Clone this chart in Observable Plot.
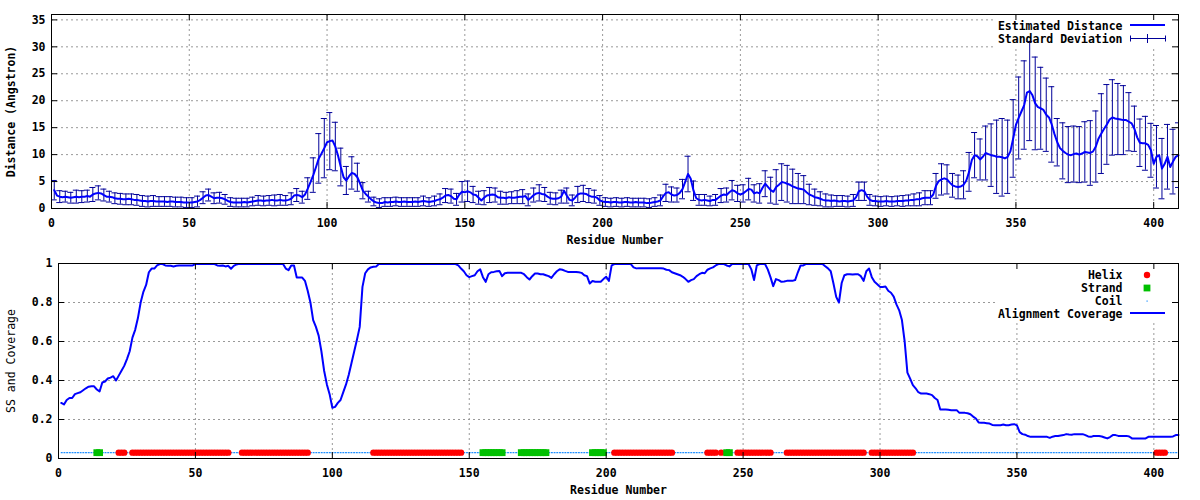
<!DOCTYPE html>
<html>
<head>
<meta charset="utf-8">
<script src="https://cdn.jsdelivr.net/npm/d3@7"></script>
<script src="https://cdn.jsdelivr.net/npm/@observablehq/plot@0.6"></script>
<style>
  html, body { margin: 0; padding: 0; background: white; }
  #chart svg { display: block; }
</style>
</head>
<body>
<div id="chart"></div>
<script>
// ---------- Data ----------
const distance = [
  3.4, 2.4, 2.2, 2.1, 2.2, 2.1, 2.0, 2.1, 2.2, 2.1,
  2.2, 2.2, 2.3, 2.2, 2.6, 2.8, 2.9, 2.8, 2.5, 2.2,
  2.2, 2.1, 1.9, 1.8, 1.8, 1.7, 1.7, 1.8, 1.7, 1.6,
  1.6, 1.5, 1.4, 1.4, 1.3, 1.4, 1.4, 1.3, 1.3, 1.3,
  1.3, 1.2, 1.3, 1.3, 1.2, 1.2, 1.2, 1.1, 1.1, 1.1,
  1.1, 1.2, 1.3, 1.6, 2.0, 2.4, 2.5, 2.2, 1.9, 2.0,
  2.0, 1.9, 1.7, 1.4, 1.2, 1.1, 1.1, 1.1, 1.1, 1.2,
  1.1, 1.2, 1.3, 1.4, 1.5, 1.5, 1.4, 1.5, 1.5, 1.6,
  1.5, 1.5, 1.6, 1.5, 1.5, 1.6, 1.8, 2.4, 2.5, 2.4,
  2.1, 2.6, 3.7, 4.9, 6.2, 7.7, 9.3, 10.2, 11.2, 12.3,
  12.5, 12.6, 11.5, 9.8, 7.7, 5.8, 5.2, 6.0, 6.6, 6.4,
  5.8, 4.6, 3.3, 2.7, 2.2, 1.7, 1.3, 1.1, 1.0, 1.0,
  1.2, 1.1, 1.2, 1.2, 1.3, 1.2, 1.2, 1.3, 1.2, 1.2,
  1.2, 1.3, 1.2, 1.3, 1.4, 1.3, 1.2, 1.3, 1.4, 1.6,
  1.7, 2.0, 2.4, 2.5, 2.3, 1.8, 1.7, 2.6, 3.1, 3.0,
  3.2, 3.0, 2.6, 2.5, 2.0, 1.5, 2.0, 2.4, 2.5, 2.6,
  2.5, 2.1, 2.0, 2.0, 1.9, 2.1, 2.0, 2.0, 2.1, 2.2,
  2.2, 2.3, 1.6, 2.0, 2.5, 2.8, 2.9, 2.7, 2.6, 2.2,
  1.9, 1.8, 1.8, 1.9, 2.2, 3.3, 2.4, 1.6, 1.5, 2.0,
  2.6, 2.8, 2.8, 2.7, 2.4, 2.2, 2.2, 2.0, 1.5, 1.3,
  1.2, 1.2, 1.1, 1.2, 1.2, 1.1, 1.1, 1.2, 1.2, 1.1,
  1.1, 1.2, 1.1, 1.1, 1.1, 1.0, 1.0, 1.1, 1.2, 1.3,
  1.5, 2.3, 2.9, 3.0, 2.6, 2.4, 2.5, 2.9, 3.6, 5.0,
  6.4, 5.5, 3.3, 1.9, 1.6, 1.5, 1.6, 1.5, 1.4, 1.6,
  1.6, 2.0, 2.4, 2.6, 2.5, 3.0, 3.4, 3.2, 2.8, 2.6,
  2.8, 3.2, 3.6, 3.5, 2.8, 3.0, 2.8, 3.8, 4.6, 4.0,
  3.4, 3.1, 4.0, 4.4, 4.9, 4.8, 4.6, 4.4, 4.1, 3.9,
  3.7, 3.6, 3.5, 3.0, 2.6, 2.4, 2.1, 2.0, 1.8, 1.6,
  1.5, 1.5, 1.4, 1.5, 1.4, 1.3, 1.4, 1.4, 1.3, 1.4,
  1.5, 2.1, 3.2, 3.4, 3.2, 2.2, 1.6, 1.4, 1.4, 1.3,
  1.3, 1.3, 1.4, 1.3, 1.3, 1.3, 1.4, 1.4, 1.4, 1.5,
  1.5, 1.6, 1.6, 1.7, 1.7, 1.9, 2.0, 2.0, 2.0, 2.6,
  4.2, 5.1, 5.4, 5.6, 5.4, 4.8, 4.3, 4.1, 4.0, 4.1,
  4.4, 5.2, 6.8, 9.0, 9.9, 9.7, 9.1, 9.6, 10.3, 10.1,
  9.9, 9.8, 9.6, 9.6, 9.5, 9.3, 9.6, 10.6, 13.0, 15.5,
  16.8, 18.0, 19.2, 21.5, 21.8, 21.0, 19.5, 18.8, 18.6, 18.3,
  17.4, 16.9, 15.6, 13.8, 12.3, 11.2, 10.7, 10.3, 10.0, 9.9,
  10.1, 10.2, 10.0, 10.2, 10.5, 10.4, 10.3, 10.6, 11.5, 13.0,
  13.9, 14.8, 15.6, 16.5, 16.9, 16.7, 16.6, 16.5, 16.4, 16.4,
  16.1, 15.8, 14.8, 13.2, 12.2, 12.1, 12.1, 11.8, 10.8, 8.3,
  9.6, 9.9, 7.4, 8.3, 9.6, 7.7, 8.7, 9.6, 9.9
];

const stdDev = [
  1.8, 1.2, 1.1, 1.0, 1.0, 1.1, 1.0, 1.1, 1.2, 1.1,
  1.1, 1.0, 1.1, 1.2, 1.3, 1.4, 1.3, 1.2, 1.1, 1.0,
  1.0, 1.0, 1.0, 1.1, 1.0, 1.0, 1.0, 1.1, 1.0, 1.0,
  1.0, 1.0, 1.0, 1.1, 1.0, 1.0, 1.0, 1.0, 0.9, 1.0,
  0.9, 0.9, 0.9, 0.9, 0.9, 0.9, 0.9, 0.8, 0.9, 0.9,
  0.9, 0.9, 1.0, 1.0, 1.1, 1.2, 1.1, 1.0, 1.0, 1.1,
  1.0, 1.0, 0.9, 0.8, 0.8, 0.8, 0.8, 0.8, 0.8, 0.8,
  0.8, 0.8, 0.8, 0.9, 0.9, 0.9, 0.9, 0.9, 0.9, 1.0,
  1.0, 0.9, 1.0, 1.0, 0.9, 1.0, 1.1, 1.1, 1.2, 1.2,
  1.1, 1.3, 2.0, 2.6, 3.2, 3.8, 4.6, 5.8, 5.5, 5.0,
  5.3, 5.5, 4.5, 4.5, 3.5, 3.0, 2.6, 3.0, 3.0, 2.9,
  2.6, 1.8, 1.5, 1.2, 1.0, 0.9, 0.8, 0.8, 0.8, 0.8,
  0.8, 0.8, 0.8, 0.9, 0.8, 0.8, 0.8, 0.8, 0.8, 0.8,
  0.8, 0.8, 0.8, 0.8, 0.9, 0.8, 0.8, 0.8, 0.9, 0.9,
  1.0, 1.1, 1.3, 1.4, 1.3, 1.1, 1.1, 1.5, 1.9, 1.8,
  1.9, 1.8, 1.5, 1.4, 1.2, 1.1, 1.3, 1.4, 1.4, 1.4,
  1.3, 1.2, 1.2, 1.2, 1.1, 1.2, 1.1, 1.2, 1.2, 1.3,
  1.3, 1.3, 1.1, 1.2, 1.3, 1.6, 1.5, 1.4, 1.3, 1.2,
  1.1, 1.1, 1.1, 1.1, 1.2, 2.3, 1.4, 1.0, 1.0, 1.2,
  1.5, 1.6, 1.5, 1.4, 1.3, 1.2, 1.2, 1.1, 0.9, 0.8,
  0.8, 0.8, 0.8, 0.8, 0.8, 0.8, 0.8, 0.8, 0.8, 0.8,
  0.8, 0.8, 0.8, 0.8, 0.8, 0.8, 0.8, 0.8, 0.8, 0.9,
  1.0, 1.3, 1.6, 1.6, 1.4, 1.3, 1.3, 1.5, 1.8, 2.6,
  3.3, 2.8, 1.8, 1.1, 1.0, 0.9, 1.0, 0.9, 0.9, 1.0,
  1.0, 1.2, 1.3, 1.4, 1.3, 1.6, 1.8, 1.7, 1.5, 1.4,
  1.6, 1.8, 2.0, 2.0, 1.6, 1.7, 1.8, 2.6, 2.4, 2.0,
  2.4, 2.8, 3.2, 3.3, 3.4, 3.3, 3.4, 3.3, 3.2, 3.0,
  2.8, 2.7, 2.6, 2.2, 1.9, 1.6, 1.5, 1.4, 1.3, 1.2,
  1.2, 1.1, 1.1, 1.1, 1.0, 1.0, 1.0, 1.0, 1.0, 1.0,
  1.1, 1.3, 1.7, 1.8, 1.7, 1.3, 1.0, 0.9, 0.9, 0.9,
  0.9, 0.9, 0.9, 0.9, 0.9, 0.9, 0.9, 0.9, 1.0, 1.0,
  1.0, 1.1, 1.1, 1.1, 1.2, 1.2, 1.3, 1.3, 1.3, 1.6,
  2.3, 2.6, 2.9, 2.9, 2.7, 2.5, 2.2, 2.2, 2.2, 2.4,
  2.6, 3.0, 3.6, 4.0, 4.2, 4.0, 3.8, 4.6, 5.0, 5.4,
  5.8, 6.2, 6.8, 7.0, 7.2, 6.8, 6.8, 7.0, 7.2, 7.6,
  7.6, 7.8, 8.2, 8.6, 9.2, 9.0, 8.6, 8.0, 7.6, 7.2,
  6.8, 6.6, 7.0, 6.2, 4.4, 4.4, 5.2, 5.0, 5.2, 5.0,
  5.2, 5.4, 5.2, 5.8, 5.6, 5.8, 6.0, 6.2, 6.6, 7.2,
  7.4, 7.6, 7.4, 7.0, 7.0, 6.8, 6.6, 6.6, 6.4, 6.2,
  5.4, 4.8, 4.2, 4.2, 4.4, 4.8, 5.0, 4.8, 5.0, 5.6,
  5.8, 5.8, 5.6, 5.8, 6.0, 5.8, 6.0, 6.2, 6.0
];

const coverage = [
  0.285, 0.277, 0.300, 0.310, 0.310, 0.330, 0.335, 0.340, 0.350, 0.360,
  0.368, 0.370, 0.370, 0.354, 0.344, 0.390, 0.395, 0.410, 0.415, 0.422,
  0.400, 0.425, 0.450, 0.475, 0.510, 0.550, 0.620, 0.660, 0.720, 0.800,
  0.855, 0.890, 0.955, 0.974, 0.974, 0.990, 0.997, 0.997, 0.990, 0.988,
  0.988, 0.985, 0.988, 0.990, 0.990, 0.990, 0.990, 0.990, 0.990, 0.997,
  0.997, 0.997, 0.997, 0.997, 0.997, 0.997, 0.997, 0.990, 0.988, 0.990,
  0.985, 0.988, 0.973, 0.988, 0.995, 0.998, 0.998, 0.998, 0.998, 0.998,
  0.998, 0.998, 0.998, 0.998, 0.998, 0.998, 0.998, 0.998, 0.998, 0.998,
  0.998, 0.998, 0.974, 0.966, 0.990, 0.990, 0.928, 0.928, 0.928, 0.911,
  0.860, 0.800, 0.710, 0.675, 0.630, 0.550, 0.450, 0.380, 0.330, 0.260,
  0.265, 0.285, 0.300, 0.340, 0.380, 0.430, 0.490, 0.550, 0.610, 0.675,
  0.880, 0.950, 0.970, 0.980, 0.983, 0.985, 0.997, 0.998, 0.998, 0.998,
  0.998, 0.998, 0.998, 0.998, 0.998, 0.998, 0.998, 0.998, 0.998, 0.998,
  0.998, 0.998, 0.998, 0.998, 0.998, 0.998, 0.998, 0.998, 0.998, 0.998,
  0.998, 0.998, 0.998, 0.998, 0.997, 0.990, 0.974, 0.960, 0.940, 0.930,
  0.935, 0.940, 0.960, 0.970, 0.930, 0.906, 0.945, 0.955, 0.957, 0.960,
  0.962, 0.935, 0.950, 0.952, 0.952, 0.952, 0.952, 0.952, 0.952, 0.945,
  0.930, 0.918, 0.935, 0.949, 0.949, 0.945, 0.945, 0.940, 0.935, 0.926,
  0.945, 0.960, 0.970, 0.968, 0.962, 0.957, 0.957, 0.957, 0.957, 0.955,
  0.952, 0.940, 0.935, 0.897, 0.910, 0.906, 0.906, 0.906, 0.920, 0.932,
  0.911, 0.990, 0.997, 0.997, 0.997, 0.997, 0.997, 0.997, 0.997, 0.980,
  0.975, 0.976, 0.976, 0.976, 0.976, 0.976, 0.976, 0.976, 0.976, 0.976,
  0.974, 0.968, 0.966, 0.955, 0.950, 0.945, 0.940, 0.932, 0.920, 0.906,
  0.915, 0.920, 0.935, 0.945, 0.952, 0.950, 0.968, 0.975, 0.980, 0.990,
  0.997, 0.997, 0.997, 0.990, 0.985, 0.997, 0.997, 0.997, 0.997, 0.997,
  0.997, 0.997, 0.970, 0.915, 0.990, 0.997, 0.997, 0.997, 0.970, 0.930,
  0.884, 0.920, 0.915, 0.906, 0.908, 0.911, 0.911, 0.911, 0.915, 0.955,
  0.990, 0.990, 0.998, 0.998, 0.998, 0.998, 0.998, 0.998, 0.998, 0.986,
  0.975, 0.960, 0.897, 0.829, 0.800, 0.900, 0.940, 0.945, 0.945, 0.943,
  0.945, 0.945, 0.935, 0.911, 0.960, 0.974, 0.930, 0.906, 0.894, 0.880,
  0.880, 0.882, 0.860, 0.850, 0.830, 0.790, 0.760, 0.710, 0.600, 0.440,
  0.410, 0.376, 0.360, 0.340, 0.333, 0.333, 0.333, 0.330, 0.325, 0.310,
  0.300, 0.251, 0.251, 0.251, 0.250, 0.248, 0.248, 0.248, 0.234, 0.234,
  0.234, 0.232, 0.227, 0.215, 0.205, 0.185, 0.183, 0.183, 0.181, 0.179,
  0.172, 0.171, 0.171, 0.171, 0.174, 0.171, 0.171, 0.174, 0.176, 0.170,
  0.135, 0.125, 0.122, 0.115, 0.111, 0.111, 0.111, 0.111, 0.111, 0.111,
  0.111, 0.106, 0.112, 0.115, 0.115, 0.118, 0.120, 0.125, 0.123, 0.122,
  0.125, 0.125, 0.125, 0.125, 0.120, 0.113, 0.111, 0.115, 0.115, 0.115,
  0.113, 0.108, 0.103, 0.110, 0.120, 0.120, 0.116, 0.116, 0.116, 0.116,
  0.113, 0.103, 0.103, 0.103, 0.103, 0.103, 0.103, 0.111, 0.111, 0.111,
  0.111, 0.111, 0.111, 0.111, 0.111, 0.111, 0.113, 0.120, 0.120
];

// Secondary structure segments [first residue, last residue]
const helixSegments = [[22,24],[27,62],[67,91],[115,147],[203,224],[237,240],[242,242],[248,260],[266,294],[297,312],[401,404]];
const strandSegments = [[14,15],[155,162],[169,178],[195,199],[244,245]];
const ssLevel = 0.03;

const xTicks = [0, 50, 100, 150, 200, 250, 300, 350, 400];
const distTicks = [0, 5, 10, 15, 20, 25, 30, 35];
const covTicks = [0, 0.2, 0.4, 0.6, 0.8, 1];
const xDomain = [0, 409];

const topLegend = [
  {label: "Estimated Distance", kind: "line"},
  {label: "Standard Deviation", kind: "errorbar"}
];
const bottomLegend = [
  {label: "Helix", kind: "helix"},
  {label: "Strand", kind: "strand"},
  {label: "Coil", kind: "coil"},
  {label: "Alignment Coverage", kind: "line"}
];

// ---------- Tables ----------
const rows = distance.map((d, i) => ({res: i + 1, dist: d, sd: stdDev[i], cov: coverage[i]}));
const barRows = rows.filter(r => r.res % 2 === 1);   // error bars drawn on every other residue
const inSeg = (segs, r) => segs.some(([a, b]) => r >= a && r <= b);
const ssRows = rows.map(r => ({
  res: r.res,
  type: inSeg(helixSegments, r.res) ? "H" : inSeg(strandSegments, r.res) ? "E" : "C"
}));

// ---------- Styling ----------
const FONT = "'DejaVu Sans Mono', 'Liberation Mono', monospace";
const LINE_BLUE = "#0000ff";
const BAR_BLUE = "#000099";
const GRID = {stroke: "#999999", strokeOpacity: 1, strokeDasharray: "2,3", strokeWidth: 1};
const HELIX_RED = "#ff0000";
const STRAND_GREEN = "#00c000";
const COIL_BLUE = "#1e8fff";
const fmt = d => String(d);

function legendBackground(h) {
  return (index, scales, values, dims) => {
    const right = dims.width - dims.marginRight;
    const g = d3.create("svg:g");
    g.append("rect").attr("x", right - 182).attr("y", dims.marginTop + 1)
      .attr("width", 181).attr("height", h).attr("fill", "white");
    return g.node();
  };
}

function legendContent(items) {
  return (index, scales, values, dims) => {
    const right = dims.width - dims.marginRight;
    const g = d3.create("svg:g")
      .attr("font-family", FONT).attr("font-size", "11.5px").attr("font-weight", "bold");
    const sx1 = right - 48, sx2 = right - 13, sm = right - 31;
    items.forEach((it, i) => {
      const y = dims.marginTop + 12 + i * 13;
      g.append("text").attr("x", right - 55.5).attr("y", y).attr("dy", "0.35em")
        .attr("text-anchor", "end").attr("fill", "black").text(it.label);
      const ly = y - 1;
      if (it.kind === "line") {
        g.append("line").attr("x1", sx1).attr("x2", sx2).attr("y1", ly).attr("y2", ly)
          .attr("stroke", LINE_BLUE).attr("stroke-width", 2);
      } else if (it.kind === "errorbar") {
        g.append("line").attr("x1", sx1).attr("x2", sx2).attr("y1", ly + 0.5).attr("y2", ly + 0.5)
          .attr("stroke", BAR_BLUE).attr("stroke-width", 1);
        [[sx1, 3], [sx2, 3], [sm, 4.5]].forEach(([x, h]) => {
          g.append("line").attr("x1", x + 0.5).attr("x2", x + 0.5).attr("y1", ly + 0.5 - h).attr("y2", ly + 0.5 + h)
            .attr("stroke", BAR_BLUE).attr("stroke-width", 1);
        });
      } else if (it.kind === "helix") {
        g.append("circle").attr("cx", sm).attr("cy", y).attr("r", 3.2).attr("fill", HELIX_RED);
      } else if (it.kind === "strand") {
        g.append("rect").attr("x", sm - 3.4).attr("y", y - 3.4).attr("width", 6.8).attr("height", 6.8).attr("fill", STRAND_GREEN);
      } else if (it.kind === "coil") {
        g.append("rect").attr("x", sm - 0.5).attr("y", y - 0.5).attr("width", 1.2).attr("height", 1.2).attr("fill", COIL_BLUE);
      }
    });
    return g.node();
  };
}

// ---------- Top panel: distance with error bars ----------
const topM = {left: 51, right: 22, top: 14, bottom: 42};
const topFW = 1200 - topM.left - topM.right;
const topFH = 250 - topM.top - topM.bottom;

const topPlot = Plot.plot({
  width: 1200,
  height: 250,
  marginLeft: topM.left, marginRight: topM.right, marginTop: topM.top, marginBottom: topM.bottom,
  x: {domain: xDomain},
  y: {domain: [0, 36]},
  style: {fontFamily: FONT, fontSize: "11.5px", fontWeight: "bold", background: "white", color: "black"},
  marks: [
    Plot.gridX(xTicks, GRID),
    Plot.gridY(distTicks.filter(t => t > 0), GRID),
    legendBackground(33),
    Plot.ruleX(barRows, {x: "res", y1: d => d.dist - d.sd, y2: d => d.dist + d.sd, stroke: BAR_BLUE, strokeWidth: 1, clip: true}),
    Plot.ruleY(barRows, {y: d => d.dist + d.sd, x1: "res", x2: "res", insetLeft: -3, insetRight: -3, stroke: BAR_BLUE, strokeWidth: 1, clip: true}),
    Plot.ruleY(barRows, {y: d => d.dist - d.sd, x1: "res", x2: "res", insetLeft: -3, insetRight: -3, stroke: BAR_BLUE, strokeWidth: 1, clip: true}),
    Plot.line(rows, {x: "res", y: "dist", stroke: LINE_BLUE, strokeWidth: 2}),
    Plot.frame({stroke: "black"}),
    Plot.tickX(xTicks, {x: d => d, insetTop: topFH - 6, stroke: "black"}),
    Plot.tickX(xTicks, {x: d => d, insetBottom: topFH - 6, stroke: "black"}),
    Plot.tickY(distTicks, {y: d => d, insetRight: topFW - 6, stroke: "black"}),
    Plot.tickY(distTicks, {y: d => d, insetLeft: topFW - 6, stroke: "black"}),
    Plot.axisX({ticks: xTicks, tickSize: 0, tickPadding: 10, label: null, tickFormat: fmt}),
    Plot.axisY({ticks: distTicks, tickSize: 0, tickPadding: 6, label: null, tickFormat: fmt}),
    Plot.text(["Residue Number"], {frameAnchor: "bottom", textAnchor: "middle", lineAnchor: "middle", dy: 32, fill: "black"}),
    Plot.text(["Distance (Angstron)"], {frameAnchor: "left", textAnchor: "middle", lineAnchor: "middle", rotate: -90, dx: -40, fill: "black"}),
    legendContent(topLegend)
  ]
});

// ---------- Bottom panel: SS and coverage ----------
const botM = {left: 58, right: 22, top: 13, bottom: 42};
const botFW = 1200 - botM.left - botM.right;
const botFH = 250 - botM.top - botM.bottom;

const bottomPlot = Plot.plot({
  width: 1200,
  height: 250,
  marginLeft: botM.left, marginRight: botM.right, marginTop: botM.top, marginBottom: botM.bottom,
  x: {domain: xDomain},
  y: {domain: [0, 1]},
  style: {fontFamily: FONT, fontSize: "11.5px", fontWeight: "bold", background: "white", color: "black"},
  marks: [
    Plot.gridX(xTicks, GRID),
    Plot.gridY(covTicks.filter(t => t > 0 && t < 1), GRID),
    legendBackground(56),
    Plot.line(ssRows, {x: "res", y: d => d.type === "C" ? ssLevel : NaN, stroke: COIL_BLUE, strokeWidth: 1.2, strokeDasharray: "1,1.7"}),
    Plot.dot(ssRows.filter(d => d.type === "H"), {x: "res", y: () => ssLevel, r: 3.2, fill: HELIX_RED, stroke: "none"}),
    Plot.dot(ssRows.filter(d => d.type === "E"), {x: "res", y: () => ssLevel, symbol: "square", r: 3.85, fill: STRAND_GREEN, stroke: "none"}),
    Plot.line(rows, {x: "res", y: "cov", stroke: LINE_BLUE, strokeWidth: 2}),
    Plot.frame({stroke: "black"}),
    Plot.tickX(xTicks, {x: d => d, insetTop: botFH - 6, stroke: "black"}),
    Plot.tickX(xTicks, {x: d => d, insetBottom: botFH - 6, stroke: "black"}),
    Plot.tickY(covTicks, {y: d => d, insetRight: botFW - 6, stroke: "black"}),
    Plot.tickY(covTicks, {y: d => d, insetLeft: botFW - 6, stroke: "black"}),
    Plot.axisX({ticks: xTicks, tickSize: 0, tickPadding: 10, label: null, tickFormat: fmt}),
    Plot.axisY({ticks: covTicks, tickSize: 0, tickPadding: 6, label: null, tickFormat: fmt}),
    Plot.text(["Residue Number"], {frameAnchor: "bottom", textAnchor: "middle", lineAnchor: "middle", dy: 32, fill: "black"}),
    Plot.text(["SS and Coverage"], {frameAnchor: "left", textAnchor: "middle", lineAnchor: "middle", rotate: -90, dx: -47, fill: "black", fontWeight: "normal"}),
    legendContent(bottomLegend)
  ]
});

const chart = document.getElementById("chart");
chart.appendChild(topPlot);
chart.appendChild(bottomPlot);
</script>
</body>
</html>
